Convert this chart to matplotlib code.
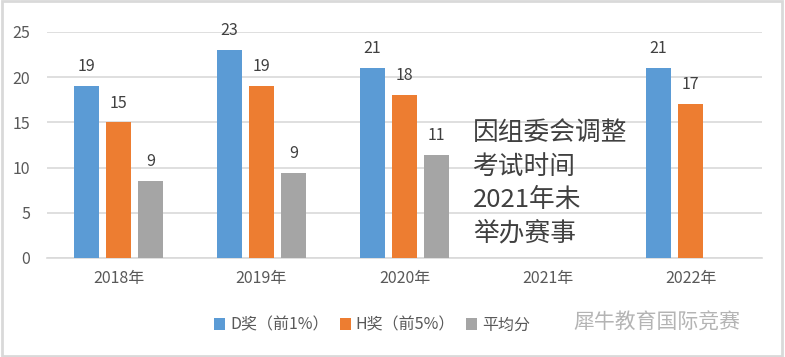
import numpy as np
import matplotlib
matplotlib.use('Agg')
from matplotlib import pyplot as plt
from matplotlib.patches import Rectangle

plt.rcParams['font.family'] = ['Noto Sans CJK SC', 'DejaVu Sans']

years = ['2018年', '2019年', '2020年', '2021年', '2022年']
d_award = [19, 23, 21, np.nan, 21]
h_award = [15, 19, 18, np.nan, 17]
avg_score = [8.5, 9.4, 11.4, np.nan, np.nan]
series_names = ['D奖（前1%）', 'H奖（前5%）', '平均分']
colors = ['#5b9bd5', '#ed7d31', '#a5a5a5']
note = '因组委会调整\n考试时间\n2021年未\n举办赛事'

fig = plt.figure(figsize=(7.85, 3.57), dpi=100)
ax = fig.add_axes([47/785, 1 - 258/357, 715/785, 226/357])

x = np.arange(len(years))
step = 0.224
width = 0.175
for i, (vals, name, c) in enumerate(zip([d_award, h_award, avg_score], series_names, colors)):
    pos = x + (i - 1) * step
    ax.bar(pos, vals, width=width, color=c, label=name, zorder=3)
    for p, v in zip(pos, vals):
        if not np.isnan(v):
            ax.text(p, v + 1.2, '%d' % int(v + 0.5), ha='center', va='bottom',
                    fontsize=11.5, color='#404040')

ax.set_xlim(-0.5, len(years) - 0.5)
ax.set_ylim(0, 25)
ax.set_yticks(range(0, 26, 5))
ax.yaxis.grid(True, color='#d9d9d9', linewidth=1.2, zorder=0)
for s in ['top', 'right', 'left']:
    ax.spines[s].set_visible(False)
ax.spines['bottom'].set_color('#d9d9d9')
ax.spines['bottom'].set_linewidth(1.2)
ax.set_xticks(x)
ax.set_xticklabels(years)
ax.tick_params(axis='both', length=0, colors='#595959', labelsize=11.5)
ax.tick_params(axis='x', pad=9)
ax.tick_params(axis='y', pad=12)

fig.text(473/785, 1 - 120/357, note, ha='left', va='top', fontsize=18.5,
         color='#404040', linespacing=1.38)

fig.legend(loc='center', bbox_to_anchor=(372/785, 1 - 325/357), ncol=3,
           frameon=False, fontsize=11.5, handlelength=0.7, handleheight=0.7,
           handletextpad=0.3, columnspacing=0.7, labelcolor='#595959')

# watermark
fig.text(657/785, 1 - 323/357, '犀牛教育国际竞赛', ha='center', va='center',
         fontsize=15, color='#b4b4b4')

fig.patches.append(Rectangle((0.002, 0.004), 0.994, 0.992, transform=fig.transFigure,
                             fill=False, edgecolor='#d9d9d9', linewidth=2))

fig.savefig('out.png', dpi=100)
